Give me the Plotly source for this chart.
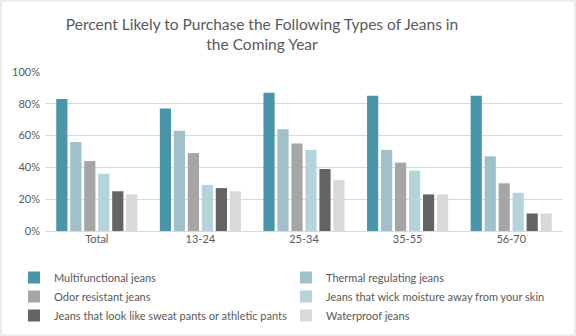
import plotly.graph_objects as go

categories = ["Total", "13-24", "25-34", "35-55", "56-70"]
series_names = [
    "Multifunctional jeans",
    "Thermal regulating jeans",
    "Odor resistant jeans",
    "Jeans that wick moisture away from your skin",
    "Jeans that look like sweat pants or athletic pants",
    "Waterproof jeans",
]
multifunctional = [83, 77, 87, 85, 85]
thermal = [56, 63, 64, 51, 47]
odor = [44, 49, 55, 43, 30]
wick = [36, 29, 51, 38, 24]
sweat = [25, 27, 39, 23, 11]
waterproof = [23, 25, 32, 23, 11]
series_values = [multifunctional, thermal, odor, wick, sweat, waterproof]
colors = ["#4a95aa", "#a0c0ca", "#a6a6a6", "#b4d3db", "#646464", "#d9d9d9"]
y_ticks = [0, 20, 40, 60, 80, 100]
y_tick_labels = ["0%", "20%", "40%", "60%", "80%", "100%"]

W, H = 576, 336
ML, MR, MT, MB = 45, 13, 72, 105
PW, PH = W - ML - MR, H - MT - MB

fig = go.Figure()
for name, vals, c in zip(series_names, series_values, colors):
    fig.add_trace(go.Bar(x=categories, y=vals, name=name, marker=dict(color=c, line=dict(width=0))))

txt = "#595959"
fig.update_layout(
    width=W, height=H,
    margin=dict(l=ML, r=MR, t=MT, b=MB, autoexpand=False),
    paper_bgcolor="white", plot_bgcolor="white",
    barmode="group", bargap=0.19, bargroupgap=0.2,
    font=dict(family="Lato", size=11, color=txt),
    title=dict(
        text="Percent Likely to Purchase the Following Types of Jeans in<br>the Coming Year",
        x=262 / W, xref="container", xanchor="center",
        y=1 - 30 / H, yref="container", yanchor="top",
        font=dict(family="Lato", size=15.5, color=txt),
    ),
    xaxis=dict(showgrid=False, showline=False, ticks="", tickfont=dict(size=11, color=txt)),
    yaxis=dict(
        range=[0, 100], tickvals=y_ticks, ticktext=y_tick_labels,
        showgrid=True, gridcolor="#d9d9d9", gridwidth=1, zeroline=True,
        zerolinecolor="#d9d9d9", zerolinewidth=1, showline=False, ticks="",
        tickfont=dict(size=11, color=txt), ticklabelstandoff=4,
    ),
    legend=dict(
        orientation="h", x=(14 - ML) / PW, xanchor="left",
        y=(0 - (263 - (MT + PH))) / PH, yanchor="top",
        entrywidth=227, entrywidthmode="pixels",
        font=dict(family="Lato", size=11, color=txt),
        itemwidth=30, traceorder="normal",
        bgcolor="rgba(0,0,0,0)",
    ),
    showlegend=True,
)

# outer chart border
fig.add_shape(
    type="rect", xref="paper", yref="paper", layer="below",
    x0=(1 - ML) / PW, x1=(W - 1 - ML) / PW,
    y0=-(H - 1 - MT - PH) / PH, y1=1 + (MT - 1) / PH,
    line=dict(color="#d9d9d9", width=1), fillcolor="rgba(0,0,0,0)",
)

fig.write_html("out.html")
